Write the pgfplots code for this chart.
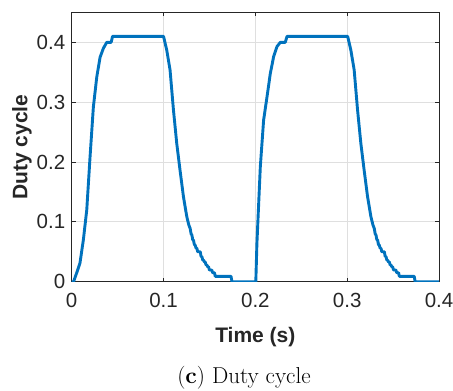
\documentclass[border=0pt]{standalone}
\usepackage{pgfplots}
\pgfplotsset{compat=1.18}
\usepackage{fontspec}
\newfontfamily\arial{Liberation Sans}
\definecolor{mblue}{RGB}{0,114,189}
\definecolor{axgray}{RGB}{38,38,38}
\definecolor{gridgray}{RGB}{223,223,223}

\begin{document}
\begin{tikzpicture}
\begin{axis}[
  name=ax,
  at={(0,0)}, anchor=south west,
  scale only axis,
  width=367.3pt, height=269.3pt,
  xmin=0, xmax=0.4, ymin=0, ymax=0.45,
  xtick={0,0.1,0.2,0.3,0.4},
  ytick={0,0.1,0.2,0.3,0.4},
  xticklabels={0,0.1,0.2,0.3,0.4},
  yticklabels={0,0.1,0.2,0.3,0.4},
  tick pos=both, tick align=inside,
  major tick length=4pt,
  grid=major,
  major grid style={gridgray, line width=0.8pt},
  axis line style={axgray, line width=0.8pt},
  every tick/.style={axgray, line width=0.8pt},
  ticklabel style={font=\arial\fontsize{20.5}{24}\selectfont, text=axgray},
  xticklabel style={yshift=-8pt},
  yticklabel style={xshift=-3pt},
  /pgf/number format/assume math mode=true,
  xlabel={Time (s)},
  ylabel={Duty cycle},
  label style={font=\arial\bfseries\fontsize{21}{24}\selectfont, text=axgray},
  xlabel style={yshift=-13pt},
  ylabel style={yshift=-2pt},
]
\addplot[mblue, line width=2.9pt, line join=round] coordinates {
  (0,0) (0.002,0) (0.0055,0.015) (0.009,0.031) (0.0127,0.07) (0.0164,0.12)
  (0.020,0.209) (0.0236,0.292) (0.0273,0.342) (0.0309,0.375) (0.0345,0.39)
  (0.0382,0.40) (0.043,0.40) (0.0445,0.41) (0.1,0.41)
  (0.1035,0.387) (0.1071,0.354) (0.1108,0.287) (0.1144,0.231) (0.118,0.186)
  (0.1217,0.142) (0.1253,0.109) (0.1275,0.095) (0.129,0.089) (0.1300,0.080)
  (0.1309,0.078) (0.1318,0.070) (0.1326,0.0697) (0.1336,0.062) (0.1345,0.061)
  (0.1354,0.056) (0.1363,0.056) (0.1372,0.050) (0.140,0.050) (0.1409,0.042)
  (0.1418,0.042) (0.1427,0.036) (0.1435,0.036) (0.1445,0.033) (0.1454,0.033)
  (0.1463,0.028) (0.1472,0.028) (0.148,0.025) (0.149,0.025) (0.150,0.0195)
  (0.1525,0.0195) (0.1535,0.015) (0.1555,0.015) (0.1563,0.009) (0.1735,0.009)
  (0.1745,0) (0.2005,0)
  (0.2017,0.064) (0.2054,0.192) (0.209,0.27) (0.2127,0.309) (0.2163,0.348)
  (0.2199,0.376) (0.2236,0.393) (0.2272,0.40) (0.2326,0.40) (0.2345,0.41)
  (0.3005,0.41)
  (0.304,0.387) (0.3076,0.354) (0.3113,0.287) (0.3149,0.231) (0.3185,0.186)
  (0.3222,0.142) (0.3258,0.109) (0.328,0.095) (0.3295,0.089) (0.3305,0.080)
  (0.3314,0.078) (0.3323,0.070) (0.3331,0.0697) (0.3341,0.062) (0.335,0.061)
  (0.3359,0.056) (0.3368,0.056) (0.3377,0.050) (0.3405,0.050) (0.3414,0.042)
  (0.3423,0.042) (0.3432,0.036) (0.344,0.036) (0.345,0.033) (0.3459,0.033)
  (0.3468,0.028) (0.3477,0.028) (0.3485,0.025) (0.3495,0.025) (0.3505,0.0195)
  (0.353,0.0195) (0.354,0.015) (0.356,0.015) (0.3568,0.009) (0.373,0.009)
  (0.374,0) (0.4,0)
};
\end{axis}
\node[anchor=base, font=\fontsize{23}{27}\selectfont]
  at ([xshift=172.3pt,yshift=-101.3pt]ax.south west) {(\textbf{c}) Duty cycle};
\pgfresetboundingbox
\path ([xshift=-71.7pt,yshift=-108.3pt]ax.south west) rectangle ([xshift=14pt,yshift=12.4pt]ax.north east);
\end{tikzpicture}
\end{document}
